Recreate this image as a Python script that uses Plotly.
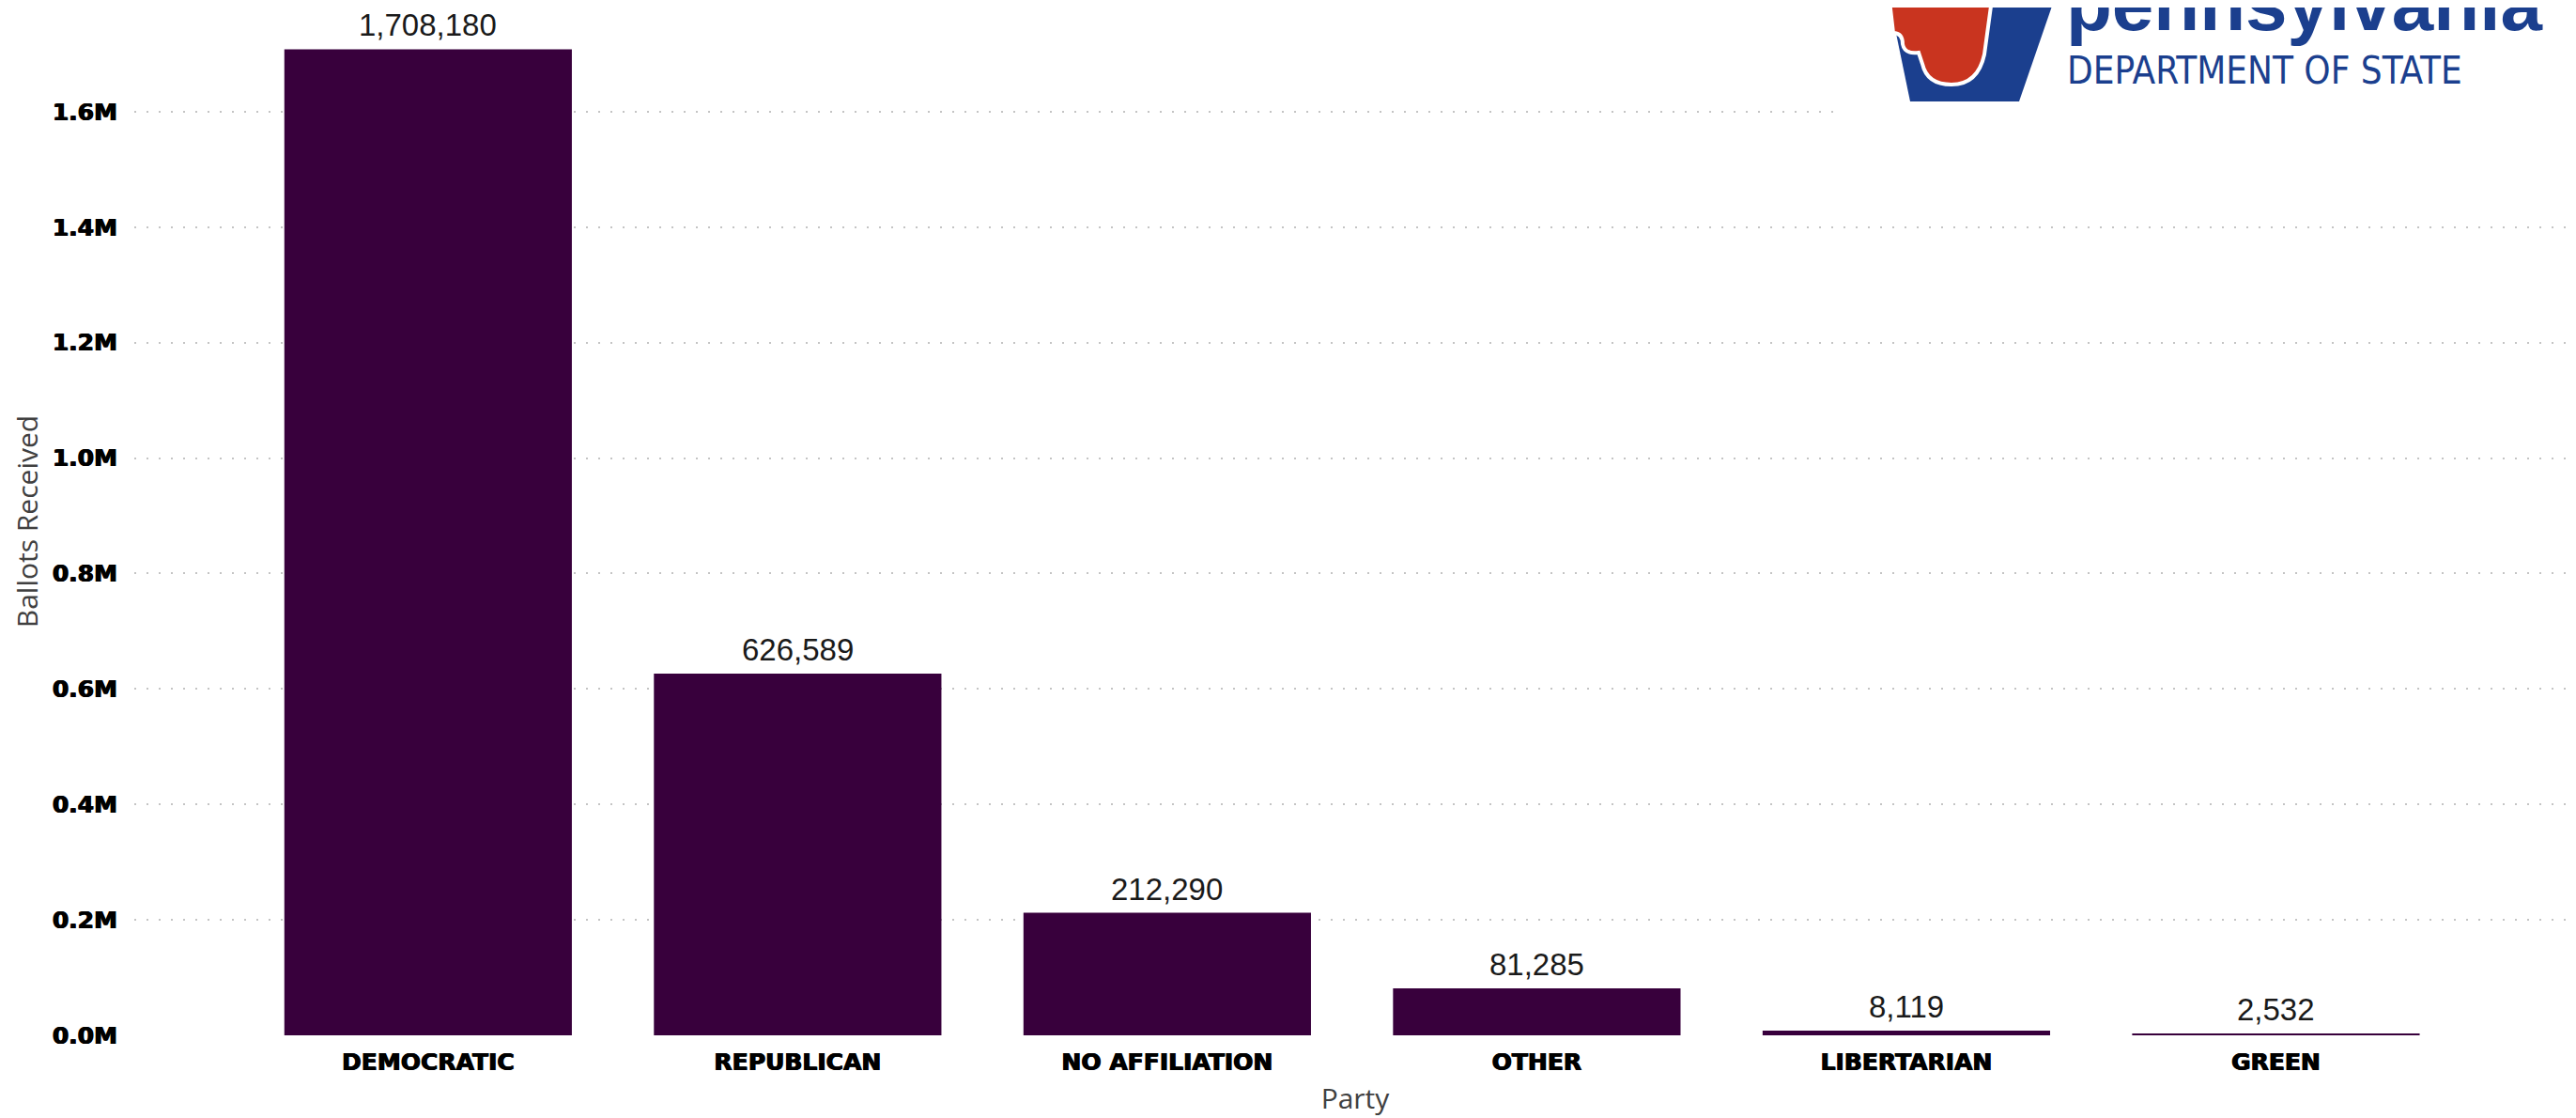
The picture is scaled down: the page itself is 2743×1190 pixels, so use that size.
import plotly.graph_objects as go

# ---- data ----
parties = ["DEMOCRATIC", "REPUBLICAN", "NO AFFILIATION", "OTHER", "LIBERTARIAN", "GREEN"]
ballots = [1708180, 626589, 212290, 81285, 8119, 2532]
y_tick_vals = [0, 200000, 400000, 600000, 800000, 1000000, 1200000, 1400000, 1600000]
y_tick_text = ["0.0M", "0.2M", "0.4M", "0.6M", "0.8M", "1.0M", "1.2M", "1.4M", "1.6M"]
x_title = "Party"
y_title = "Ballots Received"
logo_word = "pennsylvania"
logo_sub = "DEPARTMENT OF STATE"

# ---- layout geometry (pixels) ----
OFF = 8                      # page body margin
W, H = 2743 - OFF, 1190 - OFF
PLOT_L, PLOT_T, PLOT_B = 143, OFF, 1102   # in page pixels
ML = PLOT_L - OFF
MT = PLOT_T - OFF
MB = H - (PLOT_B - OFF)
MR = 0
PW, PH = W - ML - MR, H - MT - MB
PX_PER_UNIT = 614.4 / 1e6

def px(x):
    return (x - OFF - ML) / PW

def py(y):
    return (H - MB - (y - OFF)) / PH

def path(items):
    out = []
    for item in items:
        if isinstance(item, str):
            out.append(item)
        else:
            out.append(f"{px(item[0]):.5f},{py(item[1]):.5f}")
    return " ".join(out)

BAR = "#38003C"
BLUE = "#1B3F8E"
RED = "#C9341F"
HEAVY = "0.6px 0 0 #000000, -0.6px 0 0 #000000"

fig = go.Figure()
fig.add_trace(go.Bar(
    x=parties, y=ballots,
    marker=dict(color=BAR, line=dict(width=0)),
    width=0.778,
    hoverinfo="x+y",
))

annotations = []
for p, v in zip(parties, ballots):
    annotations.append(dict(
        x=p, y=v, xref="x", yref="y", text=f"{v:,}", showarrow=False,
        yanchor="bottom", xanchor="center", yshift=5,
        font=dict(family="Liberation Sans, Arial, sans-serif", size=33, color="#1a1a1a"),
    ))

# logo text
annotations.append(dict(
    x=px(2198), y=py(4), xref="paper", yref="paper", text=f"<b>{logo_word}</b>",
    showarrow=False, xanchor="left", yanchor="middle",
    font=dict(family="Liberation Sans, Arial, sans-serif", size=80, color=BLUE),
))
annotations.append(dict(
    x=px(2199), y=py(75), xref="paper", yref="paper", text=logo_sub,
    showarrow=False, xanchor="left", yanchor="middle",
    font=dict(family="Liberation Sans Narrow, DejaVu Sans Condensed, sans-serif", size=40, color=BLUE),
))

shapes = [
    # white backing of the logo image (hides gridline)
    dict(type="rect", xref="paper", yref="paper", x0=px(1962), x1=px(2743), y0=py(135), y1=py(0),
         fillcolor="white", line=dict(width=0), layer="above"),
    # keystone
    dict(type="path", xref="paper", yref="paper", layer="above",
         path=path(["M", (2010, -8), "L", (2190, -8), "L", (2150, 108), "L", (2034, 108), "Z"]),
         fillcolor=BLUE, line=dict(width=0)),
    # red J
    dict(type="path", xref="paper", yref="paper", layer="above",
         path=path(["M", (2011, -8), "L", (2122, -8), "L", (2113, 58),
                    "Q", (2106, 90), (2078, 90), "Q", (2052, 90), (2047, 68),
                    "L", (2043, 56), "Q", (2028, 58), (2026, 47),
                    "Q", (2026, 35), (2016, 35), "Z"]),
         fillcolor=RED, line=dict(color="white", width=4)),
]

fig.update_layout(
    width=W, height=H,
    margin=dict(l=ML, r=MR, t=MT, b=MB, pad=0),
    paper_bgcolor="white", plot_bgcolor="white",
    showlegend=False,
    annotations=annotations,
    shapes=shapes,
    xaxis=dict(
        range=[-0.795, 5.812],
        showgrid=False, zeroline=False, showline=False, ticks="",
        tickfont=dict(family="DejaVu Sans, sans-serif", size=25, color="#000000",
                      weight="bold", shadow=HEAVY),
        ticklabelstandoff=11,
        title=dict(text=x_title, standoff=14,
                   font=dict(family="Open Sans, sans-serif", size=30, color="#404040")),
        automargin=False,
        fixedrange=True,
    ),
    yaxis=dict(
        range=[0, PH / PX_PER_UNIT],
        tickvals=y_tick_vals, ticktext=y_tick_text,
        showgrid=True, gridcolor="#C4C4C4", gridwidth=2, griddash="2px,11px",
        zeroline=False, showline=False, ticks="",
        tickfont=dict(family="DejaVu Sans, sans-serif", size=25, color="#000000",
                      weight="bold", shadow=HEAVY),
        ticklabelstandoff=17,
        title=dict(text=y_title, standoff=14,
                   font=dict(family="Open Sans, sans-serif", size=30, color="#404040")),
        automargin=False,
        fixedrange=True,
    ),
)

fig.write_html("out.html")
